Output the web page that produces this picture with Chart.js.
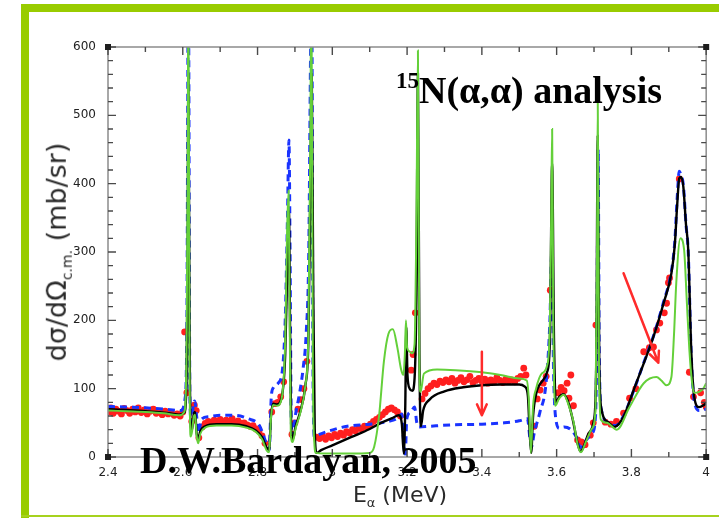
<!DOCTYPE html>
<html>
<head>
<meta charset="utf-8">
<script src="https://cdn.jsdelivr.net/npm/chart.js@4.4.1/dist/chart.umd.min.js"></script>
<style>
  body { margin: 0; background: #fff; }
  #wrap { position: relative; width: 719px; height: 518px; overflow: hidden; }
  #plot { position: absolute; left: 0; top: 0; }
  .bar { position: absolute; background: #99cc00; }
  .axis-title { position: absolute; white-space: nowrap; color: #2a2a2a; font-family: 'DejaVu Sans', sans-serif; font-size: 22px; }
  .axis-title sub { font-size: 13px; }
  .note { position: absolute; white-space: nowrap; color: #000; font-family: 'Liberation Serif', 'Times New Roman', serif; font-weight: bold; font-size: 38px; line-height: 38px; }
</style>
</head>
<body>
<div id="wrap">
  <div class="bar" style="left:21px; top:4px; width:698px; height:8px;"></div>
  <div class="bar" style="left:21px; top:4px; width:8px; height:514px;"></div>
  <div class="bar" style="left:21px; top:515px; width:698px; height:2px; background:#a6d21e;"></div>
  <canvas id="plot" width="719" height="518"></canvas>
  <div class="axis-title" style="left:58px; top:252px; font-size:27px; transform:translate(-50%,-50%) rotate(-90deg);">dσ/dΩ<sub style="font-size:14px;">c.m.</sub> (mb/sr)</div>
  <div class="axis-title" style="left:400px; top:496px; transform:translate(-50%,-50%);">E<sub>α</sub> (MeV)</div>
  <div class="note" style="left:396px; top:71px;"><span style="font-size:23px; position:relative; top:-15px;">15</span>N(α,α) analysis</div>
  <div class="note" style="left:140px; top:441px;">D.W.Bardayan, 2005</div>
</div>
<script>
// axis ticks
const xTicks = [2.4, 2.6, 2.8, 3.0, 3.2, 3.4, 3.6, 3.8, 4.0];
const yTicks = [0, 100, 200, 300, 400, 500, 600];

// measured cross section (red points)
const dataE = [2.402, 2.408, 2.414, 2.421, 2.428, 2.436, 2.443, 2.451, 2.458, 2.466, 2.473, 2.481, 2.489, 2.497, 2.505, 2.513, 2.521, 2.529, 2.537, 2.545, 2.553, 2.561, 2.569, 2.577, 2.585, 2.593, 2.600, 2.605, 2.611, 2.624, 2.631, 2.636, 2.643,
  2.652, 2.660, 2.668, 2.676, 2.684, 2.692, 2.700, 2.708, 2.716, 2.724, 2.732, 2.740, 2.748, 2.756, 2.764, 2.772, 2.780, 2.788, 2.796, 2.804, 2.812, 2.820,
  2.838, 2.846, 2.854, 2.862, 2.870, 2.892, 2.900, 2.908, 2.916, 2.924, 2.932,
  2.958, 2.966, 2.974, 2.982, 2.990, 2.998, 3.006, 3.014, 3.022, 3.030, 3.038, 3.046, 3.054, 3.062, 3.070, 3.078, 3.086, 3.094, 3.102, 3.110, 3.118, 3.126, 3.134, 3.142, 3.150, 3.158, 3.166, 3.174, 3.182,
  3.211, 3.216, 3.222,
  3.240, 3.248, 3.256, 3.264, 3.272, 3.280, 3.288, 3.296, 3.304, 3.312, 3.320, 3.328, 3.336, 3.344, 3.352, 3.360, 3.368, 3.376, 3.384, 3.392, 3.400, 3.408, 3.416, 3.424, 3.432, 3.440, 3.448, 3.456, 3.464, 3.472, 3.480, 3.488, 3.496, 3.504, 3.512, 3.518,
  3.540, 3.548, 3.556, 3.564, 3.572, 3.583,
  3.604, 3.612, 3.620, 3.628, 3.633, 3.638, 3.645, 3.656, 3.666, 3.676, 3.690, 3.698, 3.705,
  3.730, 3.745, 3.760, 3.779, 3.795, 3.812, 3.833, 3.848, 3.859, 3.867, 3.876, 3.888, 3.894, 3.899, 3.902, 3.928, 3.955, 3.966, 3.985, 3.995, 4.000];
const dataXs = [66, 72, 64, 70, 67, 63, 71, 68, 64, 70, 66, 72, 65, 69, 63, 67, 70, 64, 66, 62, 67, 63, 65, 61, 63, 60, 66, 183, 94, 52, 76, 68, 28,
  44, 49, 52, 50, 54, 52, 55, 51, 54, 52, 56, 51, 53, 49, 50, 47, 45, 46, 41, 38, 31, 20,
  66, 78, 80, 88, 110, 33, 50, 70, 84, 100, 140,
  29, 27, 30, 26, 31, 28, 33, 30, 35, 32, 37, 35, 40, 38, 43, 41, 45, 44, 48, 52, 55, 58, 62, 66, 70, 72, 69, 66, 60,
  127, 150, 211,
  85, 93, 100, 104, 108, 106, 111, 109, 113, 110, 115, 108, 112, 116, 110, 113, 118, 109, 112, 115, 111, 114, 108, 113, 110, 116, 112, 109, 114, 111, 113, 110, 115, 118, 130, 120,
  45, 85, 98, 108, 118, 244,
  94, 102, 97, 108, 86, 120, 75, 25, 22, 18, 32, 50, 193,
  51, 48, 52, 64, 86, 100, 154, 160, 161, 186, 196, 211, 225, 255, 262, 407, 124, 88, 94, 80, 73];

// R-matrix fit (black line)
const fitE = [2.400, 2.450, 2.500, 2.550, 2.590, 2.604, 2.610, 2.613, 2.615, 2.618, 2.621, 2.625, 2.629, 2.633, 2.637, 2.641, 2.647, 2.660, 2.690, 2.730, 2.770, 2.795, 2.812, 2.824, 2.831, 2.836, 2.842, 2.852, 2.864, 2.874, 2.880, 2.884, 2.887, 2.890, 2.894, 2.902, 2.915, 2.928, 2.936, 2.941, 2.945, 2.949, 2.953, 2.958, 2.970, 3.000, 3.050, 3.100, 3.130, 3.160, 3.178, 3.186, 3.191, 3.195, 3.198, 3.201, 3.207, 3.214, 3.220, 3.225, 3.229, 3.233, 3.237, 3.243, 3.260, 3.300, 3.350, 3.400, 3.450, 3.500, 3.515, 3.523, 3.528, 3.532, 3.537, 3.545, 3.560, 3.575, 3.582, 3.588, 3.593, 3.598, 3.607, 3.618, 3.630, 3.643, 3.656, 3.664, 3.672, 3.686, 3.700, 3.706, 3.710, 3.714, 3.720, 3.740, 3.755, 3.779, 3.806, 3.833, 3.859, 3.886, 3.907, 3.916, 3.922, 3.928, 3.933, 3.939, 3.946, 3.952, 3.960, 3.968, 3.981, 4.000];
const fitXs = [70, 69, 67, 65, 62, 65, 110, 280, 560, 200, 45, 40, 62, 66, 35, 26, 38, 45, 48, 48, 45, 39, 29, 14, 10, 60, 78, 77, 86, 150, 290, 360, 190, 45, 26, 45, 68, 105, 170, 380, 560, 240, 40, 6, 10, 17, 29, 41, 50, 57, 61, 48, 6, 70, 190, 120, 100, 97, 115, 240, 560, 150, 45, 68, 84, 96, 102, 105, 106, 106, 103, 90, 35, 6, 60, 92, 110, 125, 170, 430, 170, 80, 88, 92, 82, 55, 20, 8, 15, 35, 55, 140, 470, 140, 70, 50, 44, 59, 98, 137, 176, 225, 269, 310, 365, 408, 410, 395, 340, 303, 157, 88, 73, 78];

// calculation, blue dashed
const blueE = [2.400, 2.450, 2.500, 2.550, 2.595, 2.606, 2.611, 2.615, 2.619, 2.623, 2.628, 2.632, 2.637, 2.642, 2.650, 2.670, 2.700, 2.740, 2.775, 2.805, 2.822, 2.831, 2.837, 2.843, 2.855, 2.866, 2.874, 2.880, 2.884, 2.887, 2.890, 2.894, 2.901, 2.912, 2.922, 2.930, 2.937, 2.942, 2.945, 2.948, 2.952, 2.960, 2.990, 3.040, 3.100, 3.150, 3.175, 3.186, 3.191, 3.195, 3.199, 3.210, 3.220, 3.226, 3.232, 3.260, 3.320, 3.400, 3.460, 3.500, 3.522, 3.529, 3.533, 3.540, 3.555, 3.572, 3.582, 3.587, 3.592, 3.598, 3.608, 3.620, 3.636, 3.652, 3.664, 3.678, 3.695, 3.704, 3.708, 3.711, 3.714, 3.720, 3.740, 3.757, 3.779, 3.806, 3.833, 3.859, 3.886, 3.907, 3.916, 3.922, 3.928, 3.933, 3.939, 3.946, 3.952, 3.960, 3.968, 3.982, 4.000];
const blueXs = [74, 73, 72, 70, 68, 85, 200, 700, 90, 50, 75, 82, 60, 35, 55, 59, 61, 61, 56, 46, 22, 10, 90, 102, 108, 125, 200, 350, 464, 300, 60, 30, 60, 92, 130, 180, 300, 600, 700, 150, 30, 32, 38, 45, 48, 52, 57, 63, 20, 0, 55, 66, 73, 50, 44, 45, 47, 48, 50, 53, 56, 25, 15, 35, 65, 110, 200, 300, 120, 55, 42, 44, 41, 30, 14, 24, 35, 60, 200, 450, 150, 68, 50, 46, 60, 97, 138, 177, 227, 272, 315, 375, 418, 412, 398, 340, 300, 150, 82, 68, 70];

// calculation, green dotted
const greenE = [2.400, 2.450, 2.500, 2.550, 2.590, 2.604, 2.610, 2.613, 2.615, 2.618, 2.621, 2.625, 2.629, 2.633, 2.637, 2.641, 2.647, 2.660, 2.690, 2.730, 2.770, 2.795, 2.812, 2.824, 2.831, 2.836, 2.842, 2.852, 2.864, 2.874, 2.879, 2.883, 2.886, 2.889, 2.894, 2.902, 2.915, 2.928, 2.936, 2.941, 2.944, 2.948, 2.952, 2.956, 2.980, 3.050, 3.100, 3.112, 3.125, 3.138, 3.150, 3.162, 3.174, 3.184, 3.190, 3.194, 3.197, 3.200, 3.205, 3.213, 3.220, 3.225, 3.229, 3.233, 3.236, 3.245, 3.280, 3.330, 3.400, 3.450, 3.500, 3.520, 3.526, 3.531, 3.537, 3.545, 3.560, 3.575, 3.582, 3.586, 3.588, 3.591, 3.596, 3.606, 3.619, 3.632, 3.645, 3.657, 3.665, 3.678, 3.695, 3.704, 3.708, 3.710, 3.713, 3.718, 3.734, 3.761, 3.795, 3.833, 3.867, 3.880, 3.894, 3.907, 3.914, 3.920, 3.931, 3.941, 3.948, 3.955, 3.962, 3.968, 3.980, 3.992, 4.000];
const greenXs = [68, 67, 66, 64, 61, 66, 150, 400, 700, 150, 30, 38, 58, 62, 32, 20, 34, 43, 46, 46, 43, 37, 26, 10, 7, 58, 76, 75, 84, 170, 330, 390, 200, 32, 22, 42, 66, 105, 180, 450, 700, 120, 20, 6, 5, 5, 6, 15, 60, 140, 180, 187, 160, 128, 120, 150, 200, 160, 155, 152, 165, 350, 595, 120, 95, 122, 128, 127, 124, 120, 115, 112, 80, 6, 75, 100, 122, 135, 200, 380, 480, 200, 75, 85, 91, 76, 52, 16, 7, 22, 42, 70, 300, 522, 150, 55, 50, 40, 73, 108, 117, 112, 105, 117, 180, 255, 320, 303, 230, 157, 110, 94, 95, 100, 108];

// arrows drawn in data units: [E0, xs0, E1, xs1]
const arrows = [[3.4, 154, 3.4, 61], [3.779, 269, 3.872, 138]];

function toXY(es, ys) {
  return es.map((e, i) => ({ x: e, y: ys[i] }));
}

function fmtTick(v) {
  return String(Math.round(v * 10) / 10);
}

// box round the plot, inward ticks on all four sides, little corner squares
const frameTicks = {
  id: 'frameTicks',
  afterDatasetsDraw(chart) {
    const { ctx, chartArea: a, scales: { x, y } } = chart;
    ctx.save();
    ctx.strokeStyle = '#8c8c8c';
    ctx.lineWidth = 1.5;
    ctx.strokeRect(a.left, a.top, a.right - a.left, a.bottom - a.top);

    ctx.strokeStyle = '#4a4a4a';
    ctx.lineWidth = 1.4;
    ctx.beginPath();
    for (let k = 0; k <= 16; k++) {
      const px = x.getPixelForValue(2.4 + k * 0.1);
      const len = k % 2 === 0 ? 8 : 5;
      ctx.moveTo(px, a.bottom); ctx.lineTo(px, a.bottom - len);
      ctx.moveTo(px, a.top); ctx.lineTo(px, a.top + len);
    }
    for (let k = 0; k <= 30; k++) {
      const py = y.getPixelForValue(k * 20);
      const len = k % 5 === 0 ? 8 : 5;
      ctx.moveTo(a.left, py); ctx.lineTo(a.left + len, py);
      ctx.moveTo(a.right, py); ctx.lineTo(a.right - len, py);
    }
    ctx.stroke();

    ctx.fillStyle = '#1e1e1e';
    [[a.left, a.top], [a.right, a.top], [a.left, a.bottom], [a.right, a.bottom]].forEach(([cx, cy]) => {
      ctx.fillRect(cx - 3, cy - 3, 6, 6);
    });
    ctx.restore();
  }
};

const arrowPlugin = {
  id: 'arrowPlugin',
  afterDatasetsDraw(chart) {
    const { ctx, scales: { x, y } } = chart;
    ctx.save();
    ctx.strokeStyle = '#ff2b2b';
    ctx.lineWidth = 2.5;
    ctx.lineCap = 'round';
    arrows.forEach(([e0, s0, e1, s1]) => {
      const x0 = x.getPixelForValue(e0), y0 = y.getPixelForValue(s0);
      const x1 = x.getPixelForValue(e1), y1 = y.getPixelForValue(s1);
      const ang = Math.atan2(y1 - y0, x1 - x0);
      ctx.beginPath();
      ctx.moveTo(x0, y0); ctx.lineTo(x1, y1);
      ctx.moveTo(x1, y1); ctx.lineTo(x1 - 12 * Math.cos(ang - 0.42), y1 - 12 * Math.sin(ang - 0.42));
      ctx.moveTo(x1, y1); ctx.lineTo(x1 - 12 * Math.cos(ang + 0.42), y1 - 12 * Math.sin(ang + 0.42));
      ctx.stroke();
    });
    ctx.restore();
  }
};

const tickFont = { family: "'DejaVu Sans', sans-serif", size: 12 };

new Chart(document.getElementById('plot').getContext('2d'), {
  type: 'scatter',
  data: {
    datasets: [
      {
        label: 'green',
        data: toXY(greenE, greenXs),
        showLine: true,
        borderColor: 'rgb(100, 208, 58)',
        borderWidth: 2,
        pointRadius: 0,
        cubicInterpolationMode: 'monotone',
        order: 0
      },
      {
        label: 'fit',
        data: toXY(fitE, fitXs),
        showLine: true,
        borderColor: '#000',
        borderWidth: 2.4,
        pointRadius: 0,
        cubicInterpolationMode: 'monotone',
        order: 1
      },
      {
        label: 'blue',
        data: toXY(blueE, blueXs),
        showLine: true,
        borderColor: '#1a33ff',
        borderWidth: 3,
        borderDash: [7, 5],
        pointRadius: 0,
        cubicInterpolationMode: 'monotone',
        order: 2
      },
      {
        label: 'data',
        data: toXY(dataE, dataXs),
        pointRadius: 3.4,
        pointBackgroundColor: '#ff1f1f',
        pointBorderWidth: 0,
        order: 3
      }
    ]
  },
  options: {
    responsive: false,
    animation: false,
    layout: { padding: { top: 47, right: 9, left: 0, bottom: 0 } },
    plugins: { legend: { display: false }, tooltip: { enabled: false } },
    scales: {
      x: {
        type: 'linear',
        min: 2.4,
        max: 4.0,
        afterBuildTicks: s => { s.ticks = xTicks.map(v => ({ value: v })); },
        afterFit: s => { s.height = 61; },
        grid: { display: false, drawTicks: false },
        border: { display: false },
        ticks: { callback: fmtTick, font: tickFont, color: '#222', padding: 9, maxRotation: 0, autoSkip: false }
      },
      y: {
        type: 'linear',
        min: 0,
        max: 600,
        afterBuildTicks: s => { s.ticks = yTicks.map(v => ({ value: v })); },
        afterFit: s => { s.width = 108; },
        grid: { display: false, drawTicks: false },
        border: { display: false },
        ticks: { font: tickFont, color: '#222', padding: 12 }
      }
    }
  },
  plugins: [frameTicks, arrowPlugin]
});
</script>
</body>
</html>
